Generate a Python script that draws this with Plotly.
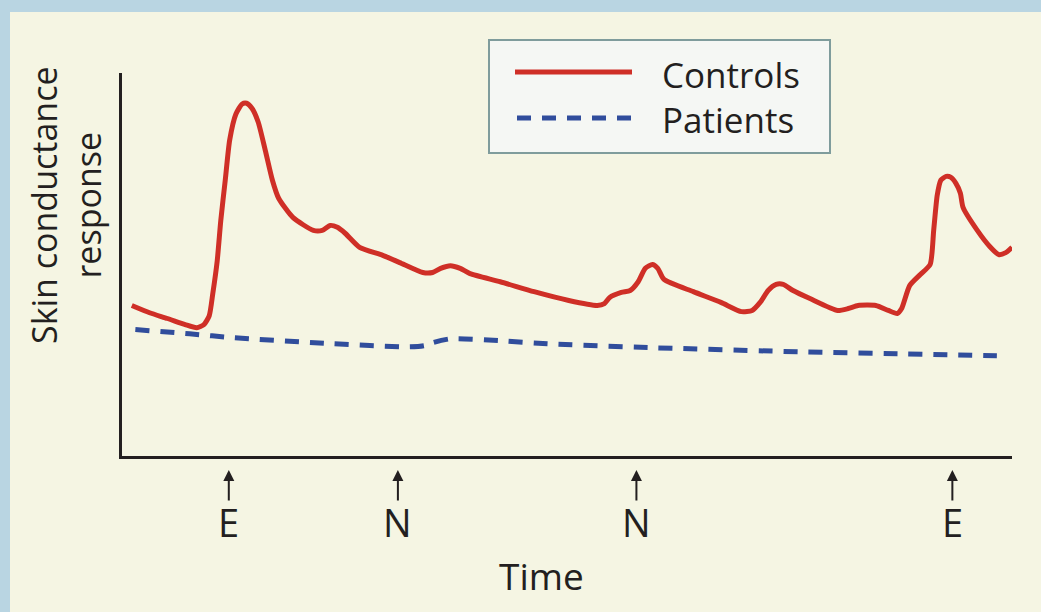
import plotly.graph_objects as go

# Skin conductance response over time (arbitrary units)
time_controls = [1.1, 3.1, 5.1, 7.1, 8.4, 9.2, 9.8, 10.2, 10.7, 11.1, 11.6, 12.1, 12.8, 13.5,
                 14.0, 14.6, 15.3, 16.1, 16.9, 17.6, 19.2, 21.5, 22.5, 23.4, 24.2, 25.1, 26.7,
                 29.3, 31.2, 33.8, 34.9, 35.8, 36.9, 38.0, 39.1, 42.5, 46.3, 50.2, 53.4, 54.2,
                 54.8, 56.1, 57.1, 58.0, 58.8, 59.6, 60.2, 60.9, 64.2, 67.3, 69.6, 70.8, 71.7,
                 72.6, 73.5, 74.3, 75.4, 77.3, 80.4, 81.6, 82.7, 84.7, 86.1, 87.1, 87.6, 88.5,
                 89.7, 90.8, 91.2, 91.6, 92.0, 92.6, 93.1, 93.7, 94.2, 94.5, 96.1, 97.5, 98.5,
                 99.3, 100.0]
scr_controls = [3.93, 3.74, 3.59, 3.43, 3.35, 3.43, 3.66, 4.24, 5.10, 6.15, 7.20, 8.25, 8.93, 9.19,
                9.21, 9.08, 8.72, 7.98, 7.20, 6.73, 6.23, 5.89, 5.89, 6.02, 5.97, 5.81, 5.45,
                5.24, 5.05, 4.79, 4.79, 4.90, 4.97, 4.90, 4.76, 4.55, 4.29, 4.06, 3.93, 3.98,
                4.14, 4.27, 4.32, 4.55, 4.90, 5.00, 4.90, 4.61, 4.29, 4.01, 3.77, 3.80, 4.01,
                4.32, 4.48, 4.48, 4.32, 4.11, 3.80, 3.85, 3.93, 3.93, 3.80, 3.72, 3.85, 4.45,
                4.74, 5.00, 5.89, 6.81, 7.20, 7.30, 7.28, 7.12, 6.86, 6.49, 5.89, 5.47, 5.26,
                5.31, 5.45]

time_patients = [1.5, 7.6, 12.5, 23.7, 32.4, 34.0, 34.9, 36.9, 42.5, 47.8, 59.3, 76.2, 87.4, 98.3]
scr_patients = [3.30, 3.19, 3.09, 2.93, 2.85, 2.88, 2.96, 3.06, 3.01, 2.93, 2.83, 2.72, 2.67, 2.62]

# Stimulus markers along the time axis (E = emotional, N = neutral)
event_times = [12.0, 31.0, 57.8, 93.3]
event_labels = ["E", "N", "N", "E"]

series_names = ["Controls", "Patients"]

RED = "#cf2f27"
BLUE = "#304d9c"
INK = "#231f20"
FONT = "Open Sans"

W, H = 1041, 612
ML, MR, MT, MB = 122, 29, 73, 156
PW, PH = W - ML - MR, H - MT - MB


def px_x(px):
    return (px - ML) / PW


def px_y(py):
    return (H - MB - py) / PH


fig = go.Figure()
fig.add_trace(go.Scatter(x=time_controls, y=scr_controls, mode="lines", name=series_names[0],
                         line=dict(color=RED, width=5, shape="spline", smoothing=0.6)))
fig.add_trace(go.Scatter(x=time_patients, y=scr_patients, mode="lines", name=series_names[1],
                         line=dict(color=BLUE, width=5, dash="14px,11px", shape="spline",
                                   smoothing=0.6)))

shapes = [
    # blue page margins
    dict(type="rect", xref="paper", yref="paper", x0=px_x(0), x1=px_x(10), y0=px_y(H), y1=px_y(0),
         fillcolor="#b9d5e2", line=dict(width=0), layer="below"),
    dict(type="rect", xref="paper", yref="paper", x0=px_x(0), x1=px_x(W), y0=px_y(12), y1=px_y(0),
         fillcolor="#b9d5e2", line=dict(width=0), layer="below"),
    # legend box
    dict(type="rect", xref="paper", yref="paper", x0=px_x(489), x1=px_x(830), y0=px_y(153),
         y1=px_y(40), fillcolor="#f5f7f4", line=dict(color="#7f9c9c", width=2), layer="below"),
    dict(type="line", xref="paper", yref="paper", x0=px_x(515), x1=px_x(632), y0=px_y(72),
         y1=px_y(72), line=dict(color=RED, width=5)),
    dict(type="line", xref="paper", yref="paper", x0=px_x(517), x1=px_x(636), y0=px_y(118),
         y1=px_y(118), line=dict(color=BLUE, width=5, dash="14px,11px")),
]

annotations = [
    dict(text=series_names[0], xref="paper", yref="paper", x=px_x(660), y=px_y(74),
         xanchor="left", yanchor="middle", showarrow=False, font=dict(size=35, color=INK, family=FONT)),
    dict(text=series_names[1], xref="paper", yref="paper", x=px_x(660), y=px_y(120),
         xanchor="left", yanchor="middle", showarrow=False, font=dict(size=35, color=INK, family=FONT)),
    dict(text="Skin conductance<br>response", xref="paper", yref="paper", x=px_x(66), y=px_y(205),
         xanchor="center", yanchor="middle", textangle=-90, showarrow=False,
         font=dict(size=34, color=INK, family=FONT)),
    dict(text="Time", xref="paper", yref="paper", x=px_x(541), y=px_y(575),
         xanchor="center", yanchor="middle", showarrow=False,
         font=dict(size=37, color=INK, family=FONT)),
]

for t, lab in zip(event_times, event_labels):
    # upward arrow pointing at the stimulus onset
    annotations.append(dict(
        text="", x=t, xref="x", y=px_y(470), yref="paper",
        showarrow=True, ax=0, ay=32, arrowhead=2, arrowsize=1.1, arrowwidth=2,
        arrowcolor=INK, standoff=0, startstandoff=0))
    # stimulus label beneath the arrow
    annotations.append(dict(
        text=lab, x=t, xref="x", y=px_y(522), yref="paper", showarrow=False,
        xanchor="center", yanchor="middle",
        font=dict(size=38, color=INK, family=FONT)))

fig.update_layout(
    width=W, height=H,
    margin=dict(l=ML, r=MR, t=MT, b=MB),
    paper_bgcolor="#f5f5e3", plot_bgcolor="rgba(0,0,0,0)",
    showlegend=False,
    shapes=shapes, annotations=annotations,
    xaxis=dict(range=[0, 100], showgrid=False, zeroline=False, showticklabels=False,
               ticks="", showline=True, linecolor=INK, linewidth=2.5, fixedrange=True),
    yaxis=dict(range=[0, 10], showgrid=False, zeroline=False, showticklabels=False,
               ticks="", showline=True, linecolor=INK, linewidth=2.5, fixedrange=True),
)

fig.write_html("out.html")
